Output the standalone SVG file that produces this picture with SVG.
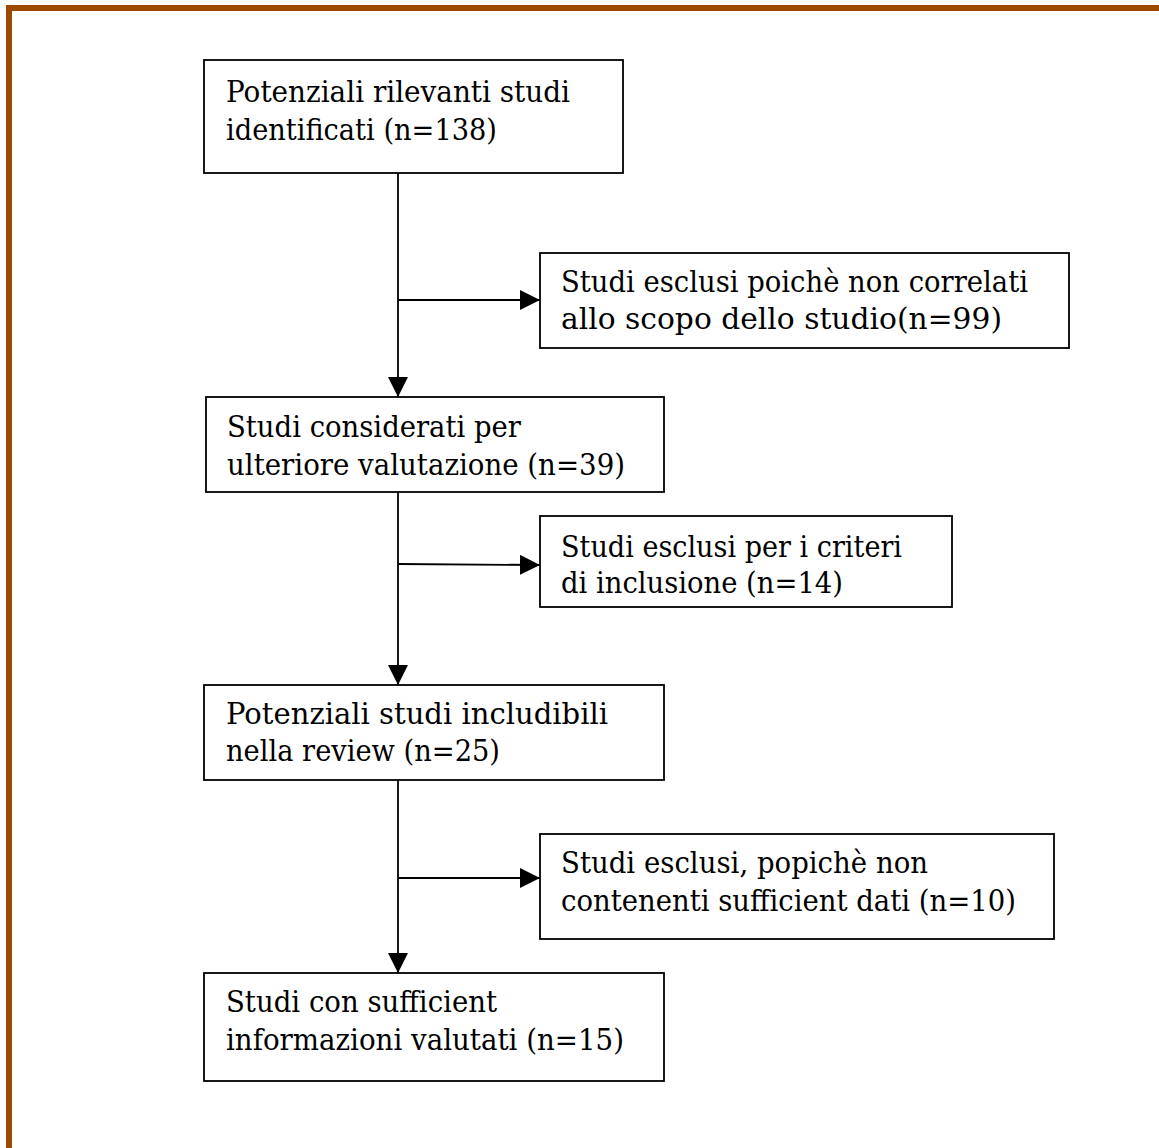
<svg xmlns="http://www.w3.org/2000/svg" width="1159" height="1148" viewBox="0 0 1159 1148">
<style>
.box{fill:#fff;stroke:#000;stroke-width:1.8}
.t{font-family:"DejaVu Serif","Liberation Serif",serif;font-size:29px;fill:#000}
.ln{fill:none;stroke:#000;stroke-width:1.8}
</style>
<defs>
<marker id="ah" markerWidth="20" markerHeight="20" viewBox="0 0 20 20" refX="20" refY="10" orient="auto" markerUnits="userSpaceOnUse">
<path d="M0,0 L20,10 L0,20 Z" fill="#000"/>
</marker>
</defs>
<rect x="0" y="0" width="1159" height="1148" fill="#fff"/>
<g id="frame">
<rect x="6" y="5" width="1153" height="6" fill="#9c4a00"/>
<rect x="6" y="5" width="6" height="1143" fill="#9c4a00"/>
</g>
<g id="connectors">
<line class="ln" x1="398" y1="173" x2="398" y2="397" marker-end="url(#ah)"/>
<line class="ln" x1="398" y1="300" x2="540" y2="300" marker-end="url(#ah)"/>
<line class="ln" x1="398" y1="492" x2="398" y2="685" marker-end="url(#ah)"/>
<line class="ln" x1="398" y1="564" x2="540" y2="565" marker-end="url(#ah)"/>
<line class="ln" x1="398" y1="780" x2="398" y2="973" marker-end="url(#ah)"/>
<line class="ln" x1="398" y1="878" x2="540" y2="878" marker-end="url(#ah)"/>
</g>
<g id="n1">
<rect class="box" x="204" y="60" width="419" height="113"/>
<text class="t" x="226" y="102" textLength="344" lengthAdjust="spacingAndGlyphs">Potenziali rilevanti studi</text>
<text class="t" x="226" y="140" textLength="271" lengthAdjust="spacingAndGlyphs">identificati (n=138)</text>
</g>
<g id="n2">
<rect class="box" x="540" y="253" width="529" height="95"/>
<text class="t" x="561" y="292" textLength="467" lengthAdjust="spacingAndGlyphs">Studi esclusi poichè non correlati</text>
<text class="t" x="561" y="329" textLength="441" lengthAdjust="spacingAndGlyphs">allo scopo dello studio(n=99)</text>
</g>
<g id="n3">
<rect class="box" x="206" y="397" width="458" height="95"/>
<text class="t" x="227" y="437" textLength="294" lengthAdjust="spacingAndGlyphs">Studi considerati per</text>
<text class="t" x="227" y="475" textLength="398" lengthAdjust="spacingAndGlyphs">ulteriore valutazione (n=39)</text>
</g>
<g id="n4">
<rect class="box" x="540" y="516" width="412" height="91"/>
<text class="t" x="561" y="557" textLength="341" lengthAdjust="spacingAndGlyphs">Studi esclusi per i criteri</text>
<text class="t" x="561" y="593" textLength="282" lengthAdjust="spacingAndGlyphs">di inclusione (n=14)</text>
</g>
<g id="n5">
<rect class="box" x="204" y="685" width="460" height="95"/>
<text class="t" x="226" y="724" textLength="382" lengthAdjust="spacingAndGlyphs">Potenziali studi includibili</text>
<text class="t" x="226" y="761" textLength="274" lengthAdjust="spacingAndGlyphs">nella review (n=25)</text>
</g>
<g id="n6">
<rect class="box" x="540" y="834" width="514" height="105"/>
<text class="t" x="561" y="873" textLength="367" lengthAdjust="spacingAndGlyphs">Studi esclusi, popichè non</text>
<text class="t" x="561" y="911" textLength="455" lengthAdjust="spacingAndGlyphs">contenenti sufficient dati (n=10)</text>
</g>
<g id="n7">
<rect class="box" x="204" y="973" width="460" height="108"/>
<text class="t" x="226" y="1012" textLength="271" lengthAdjust="spacingAndGlyphs">Studi con sufficient</text>
<text class="t" x="226" y="1050" textLength="398" lengthAdjust="spacingAndGlyphs">informazioni valutati (n=15)</text>
</g>
</svg>
